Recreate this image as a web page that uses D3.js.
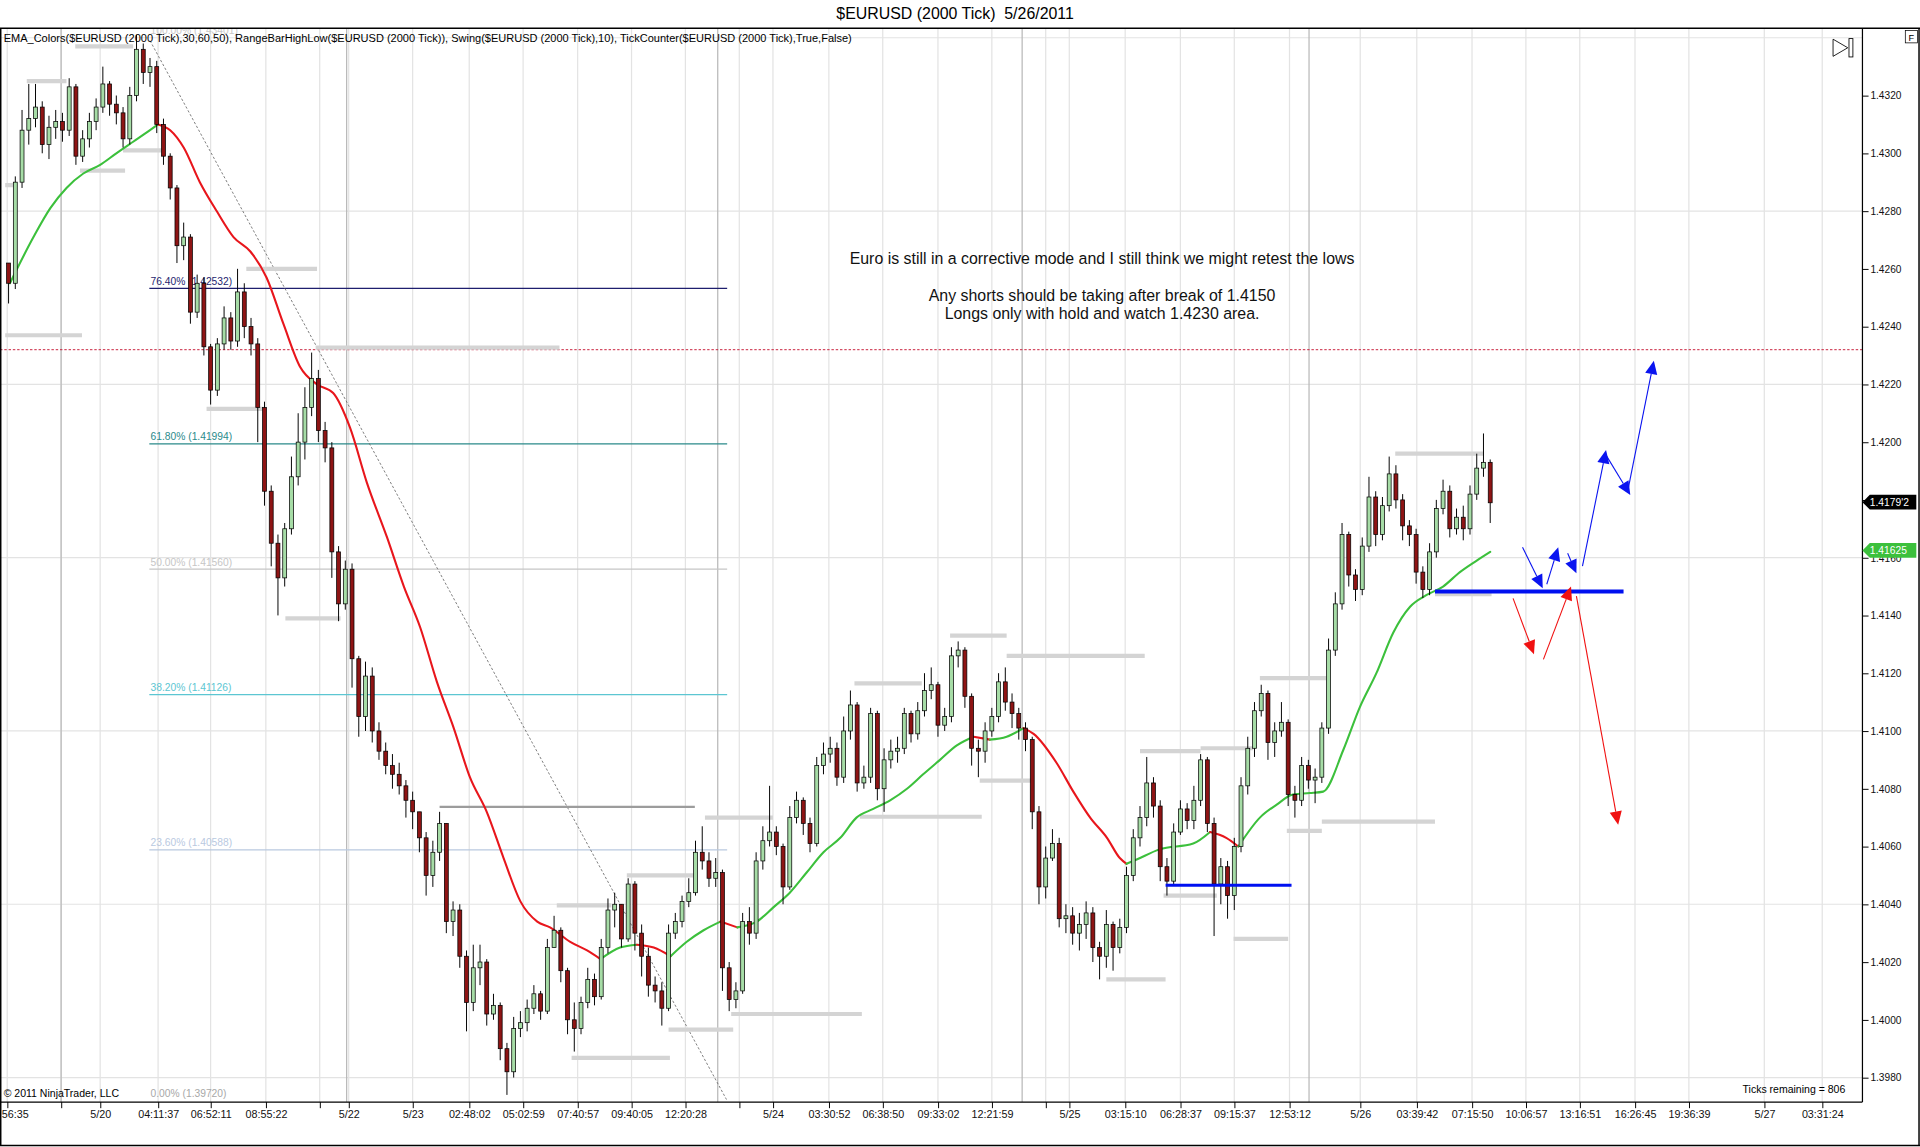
<!DOCTYPE html>
<html>
<head>
<meta charset="utf-8">
<script src="https://cdn.jsdelivr.net/npm/d3@7"></script>
<style>
  html, body { margin: 0; padding: 0; background: #fff; overflow: hidden; }
  #chart { width: 1920px; height: 1147px; }
  text { font-family: "Liberation Sans", Arial, sans-serif; }
</style>
</head>
<body>
<div id="chart"></div>
<script>
// all prices kept in pips above 1.3900 (pip = 0.0001)
const basePrice = 1.39;
const firstOpenPips = 362;

// 2000 tick bars (open = previous close)
const closePips = [355,390,408,412,416,403,409,411,408,423,
  399,405,411,416,424,417,414,405,420,436,
  428,430,410,399,388,368,371,345,355,333,
  318,334,343,335,352,340,334,312,283,265,
  253,270,288,300,312,322,304,298,262,244,
  256,225,205,219,200,193,188,185,181,176,
  172,163,150,158,168,134,138,122,106,118,
  120,102,105,90,82,97,99,104,109,103,
  125,131,117,100,97,106,114,108,125,138,
  140,128,147,130,122,112,110,104,130,134,
  141,144,158,155,149,151,118,107,110,134,
  130,155,162,165,160,146,170,176,168,161,
  188,192,194,184,200,209,182,184,206,180,
  190,193,194,206,199,207,214,216,202,205,
  226,228,212,194,193,200,205,217,210,206,
  201,197,172,146,156,161,135,136,130,133,
  137,125,122,133,125,132,150,163,170,182,
  174,153,148,165,173,169,176,190,168,147,
  153,143,160,181,194,207,213,196,200,203,
  178,176,188,183,184,201,228,244,268,254,
  249,264,281,268,278,289,280,271,268,255,
  249,262,277,283,270,274,270,282,291,293,
  279];
const highPips = [362,392,415,424,424,418,413,415,414,426,
  424,408,414,419,430,425,420,416,423,441,
  438,433,432,412,400,389,376,372,358,357,
  334,336,347,345,360,355,343,336,314,285,
  268,272,295,310,319,331,325,307,300,264,
  259,258,226,224,222,203,196,192,189,183,
  179,172,165,162,172,168,141,140,124,126,
  126,121,109,106,92,101,103,107,112,110,
  128,136,132,118,106,108,118,116,128,142,
  144,140,149,148,133,125,115,113,133,137,
  143,149,162,167,158,156,152,120,113,137,
  139,158,167,181,167,161,174,179,177,170,
  191,196,198,196,205,214,210,188,208,207,
  194,197,198,208,207,210,220,222,217,208,
  229,231,229,213,197,203,208,220,222,213,
  208,203,198,174,160,166,163,140,139,137,
  141,139,127,138,134,135,153,166,174,191,
  184,176,156,168,176,175,181,192,191,170,
  156,155,163,184,198,210,216,214,203,210,
  204,181,191,190,187,203,232,248,272,269,
  256,267,288,283,281,295,292,282,273,270,
  257,265,280,287,285,277,278,285,296,303,
  294];
const lowPips = [348,353,388,403,409,400,398,405,404,406,
  396,397,402,408,414,413,410,402,403,418,
  424,423,407,396,384,362,363,341,343,330,
  313,316,332,332,333,336,330,300,278,257,
  240,250,268,285,294,309,300,293,253,238,
  242,215,198,200,196,190,185,180,178,170,
  166,158,143,146,155,130,129,118,96,103,
  112,98,100,86,74,80,94,96,102,100,
  102,125,113,95,89,95,104,105,107,123,
  132,125,127,124,115,108,106,98,103,128,
  132,139,143,152,146,146,110,103,104,109,
  126,128,152,160,157,140,145,168,164,158,
  160,185,189,181,182,197,179,180,182,176,
  172,187,189,192,196,197,205,211,198,200,
  203,222,208,188,184,189,198,203,207,201,
  197,193,166,140,142,155,132,130,126,124,
  128,120,114,118,117,123,130,148,160,167,
  170,148,143,147,164,166,166,174,165,129,
  140,135,138,158,178,191,205,190,191,198,
  174,170,174,180,175,182,199,226,242,250,
  245,247,262,264,266,276,277,266,264,251,
  246,247,260,275,267,268,266,268,280,288,
  272];

// EMA line (bar index, pips)
const emaBars = [0.2,3.7,6.2,8.6,11.1,13.6,16,18.5,21,22.2,24,26,28.4,30.9,33.4,35.9,38.3,40.8,43.3,45.8,
  48.2,50.7,53.2,56.2,58.7,61.1,63.6,66.1,68.5,71,73.5,76,78.5,80.4,83.4,85.9,87.9,90.8,93.3,95.8,
  98.3,100.7,103.2,105.7,108.2,111.1,113.6,116,118.5,121,123.5,125.9,128.4,130.9,133.4,135.8,138.3,140.8,143.3,145.7,
  148.2,150.7,152.2,155.6,158.1,160.6,163.1,165,166,167.5,170.9,175.9,178.4,180.8,182.6,185.8,188.3,190.7,193.2,195.2,
  198.2,200.6,203.1,205.6,208.1,210.5,213,215.5,218,220];
const emaPips = [355,371,381,388,393,396,400,404,408,410,408,402,390,380,371,366,357,341,326,320,
  317,305,286,267,250,236,217,201,184,172,156,141,134,132,127,124,121,125,126,125,
  122,127,131,134,132,134,139,144,151,158,163,170,173,176,180,185,190,195,198,197,
  198,201,199,189,179,170,163,156,154,155.5,159,161,165,163,160,170,174.5,178,178.5,179,
  193.5,208,220,234,243,247,250,255,259,262];

// swing high / low markers: start bar, end bar, pips
const swingStart = [2.7,-0.5,-0.5,9.9,10.6,17,35.3,29.4,45.6,41.1,81.4,91.8,103.4,98,83.6,107.3,125.6,126.4,139.8,148.2,
  144.2,163,168,177,171.5,181.9,185.8,189.8,195,205.9,211.8];
const swingEnd = [8.6,1,10.9,18.5,17.3,23,45.8,38,81.8,49.3,89.5,101.7,113.5,107.6,98.2,126.7,135.6,144.5,148.2,168.7,
  152.1,171.8,177,184.8,179.4,190,195.7,195,211.8,219,220.2];
const swingPips = [425,389,337,437,394,401,360,311.5,332.7,239,139.6,150,170,96.6,86.8,102,216.5,170.3,233,226,
  182.8,114,193,194,143,128,218.3,165.4,168.6,296,247.4];

// range bar high line: start bar, end bar, pips
const rangeBar = [64, 101.9, 173.7];

// fibonacci retracement
const fibStartBar = 20.9, fibEndBar = 106.7;
const fibLevels = ["0.00", "23.60", "38.20", "50.00", "61.80", "76.40", "100.00"];
const fibPrices = [1.39720, 1.40588, 1.41126, 1.41560, 1.41994, 1.42532, 1.43401];
const fibColors = ["#a8a8a8", "#b9c9df", "#5cc6d2", "#c6c6c6", "#2a8a8a", "#1e1e6e", "#c8c8c8"];

// trend line (bar, pips)
const trendFrom = [21, 439], trendTo = [106.6, 72.4];

// user drawn blue levels: start bar, end bar, pips
const levelStart = [171.8, 211.8], levelEnd = [190.5, 239.8], levelPips = [146.6, 248.3], levelWidth = [2.4, 3.2];
const alertPrice = 1.4232;

// user drawn arrows (bar, pips) -> (bar, pips)
const arrowColor = ["blue","blue","blue","blue","blue","blue","red","red","red"];
const arrowFromBar = [224.8,228.4,231.5,233.7,237.2,240.5,223.4,227.9,232.8];
const arrowFromPips = [263.6,250.8,261.5,257.1,295.5,284,245.9,224.8,246.7];
const arrowToBar = [227.8,230.1,232.8,237.2,240.8,244.3,226.5,232,239];
const arrowToPips = [249.4,263.6,254.6,297.3,281.7,328.2,226.6,250,167.5];

// axes
const yTickValues = [1.3980,1.4000,1.4020,1.4040,1.4060,1.4080,1.4100,1.4120,1.4140,1.4160,1.4180,1.4200,1.4220,1.4240,1.4260,1.4280,1.4300,1.4320];
const yGridValues = [1.3980, 1.4040, 1.4100, 1.4160, 1.4220, 1.4280, 1.4340];
const xTickBars = [-0.2,7.8,13.6,22.2,30,38.2,46.2,50.5,60,68.4,76.4,84.5,92.5,100.5,108.5,113.5,121.8,129.8,138,146,
  154,157.5,165.8,174,182,190.2,200.7,209.1,217.3,225.3,233.3,241.5,249.5,260.7,269.3];
const xTickLabels = ["56:35","","5/20","04:11:37","06:52:11","08:55:22","","5/22","5/23","02:48:02",
  "05:02:59","07:40:57","09:40:05","12:20:28","","5/24","03:30:52","06:38:50","09:33:02","12:21:59",
  "","5/25","03:15:10","06:28:37","09:15:37","12:53:12","5/26","03:39:42","07:15:50","10:06:57",
  "13:16:51","16:26:45","19:36:39","5/27","03:31:24"];
const sessionBars = [7.8, 50.2, 105.3, 150.5, 193.1];

const lastPrice = 1.41792, lastPriceLabel = "1.4179'2";
const emaLast = 1.41625, emaLastLabel = "1.41625";

function createChart() {
    const container = d3.select("#chart");
    container.selectAll("*").remove();

    // drawing space of the screenshot, scaled to the window
    const W = 1568, H = 936.7;
    const plotLeft = 0, plotTop = 23, plotRight = 1521, plotBottom = 900;

    const svg = container.append("svg")
        .attr("width", 1920)
        .attr("height", 1147)
        .attr("viewBox", `0 0 ${W} ${H}`);

    svg.append("rect").attr("width", W).attr("height", H).attr("fill", "#fff");

    const toPrice = p => basePrice + p / 10000;

    const x = d3.scaleLinear().domain([0, 220]).range([7, 1217]);
    const y = d3.scaleLinear().domain([1.3980, 1.4320]).range([880, 78]);

    svg.append("defs").append("clipPath").attr("id", "plotClip")
        .append("rect")
        .attr("x", plotLeft).attr("y", plotTop)
        .attr("width", plotRight - plotLeft).attr("height", plotBottom - plotTop);

    const plot = svg.append("g").attr("clip-path", "url(#plotClip)");

    // grid
    plot.append("g").selectAll("line")
        .data(yGridValues).enter().append("line")
        .attr("x1", plotLeft).attr("x2", plotRight)
        .attr("y1", d => y(d)).attr("y2", d => y(d))
        .attr("stroke", "#e3e3e3").attr("stroke-width", 1);
    plot.append("g").selectAll("line")
        .data(xTickBars).enter().append("line")
        .attr("x1", d => x(d)).attr("x2", d => x(d))
        .attr("y1", plotTop).attr("y2", plotBottom)
        .attr("stroke", "#e3e3e3").attr("stroke-width", 1);
    plot.append("g").selectAll("line")
        .data(sessionBars).enter().append("line")
        .attr("x1", d => x(d)).attr("x2", d => x(d))
        .attr("y1", plotTop).attr("y2", plotBottom)
        .attr("stroke", "#b8b8b8").attr("stroke-width", 1);

    // alert line
    plot.append("line")
        .attr("x1", plotLeft).attr("x2", plotRight)
        .attr("y1", y(alertPrice)).attr("y2", y(alertPrice))
        .attr("stroke", "#c8203c").attr("stroke-width", 0.8)
        .attr("stroke-dasharray", "2,1.5");

    // fib retracement
    const fib = plot.append("g");
    fibPrices.forEach((p, i) => {
        if (i > 0 && i < fibPrices.length - 1) {
            fib.append("line")
                .attr("x1", x(fibStartBar)).attr("x2", x(fibEndBar))
                .attr("y1", y(p)).attr("y2", y(p))
                .attr("stroke", fibColors[i]).attr("stroke-width", 1);
        }
        fib.append("text")
            .attr("x", x(fibStartBar) + 1).attr("y", y(p) - 3)
            .attr("font-size", 8.4).attr("fill", fibColors[i])
            .text(`${fibLevels[i]}% (${p.toFixed(5)})`);
    });

    // trend line
    plot.append("line")
        .attr("x1", x(trendFrom[0])).attr("y1", y(toPrice(trendFrom[1])))
        .attr("x2", x(trendTo[0])).attr("y2", y(toPrice(trendTo[1])))
        .attr("stroke", "#6a6a6a").attr("stroke-width", 0.7)
        .attr("stroke-dasharray", "2,1.6");

    // swing markers
    plot.append("g").selectAll("line")
        .data(swingPips).enter().append("line")
        .attr("x1", (d, i) => x(swingStart[i])).attr("x2", (d, i) => x(swingEnd[i]))
        .attr("y1", d => y(toPrice(d))).attr("y2", d => y(toPrice(d)))
        .attr("stroke", "#d4d4d4").attr("stroke-width", 3.4);

    plot.append("line")
        .attr("x1", x(rangeBar[0])).attr("x2", x(rangeBar[1]))
        .attr("y1", y(toPrice(rangeBar[2]))).attr("y2", y(toPrice(rangeBar[2])))
        .attr("stroke", "#9c9c9c").attr("stroke-width", 1.8);

    // EMA, coloured by slope: split into runs, each drawn smooth
    const emaPts = emaBars.map((b, i) => [b, emaPips[i]]);
    const emaLine = d3.line().curve(d3.curveMonotoneX)
        .x(d => x(d[0])).y(d => y(toPrice(d[1])));
    const emaG = plot.append("g");
    let runStart = 0;
    for (let i = 1; i < emaPts.length; i++) {
        const up = emaPts[i][1] >= emaPts[i - 1][1];
        const nextUp = i + 1 < emaPts.length ? emaPts[i + 1][1] >= emaPts[i][1] : !up;
        if (nextUp !== up) {
            emaG.append("path")
                .attr("d", emaLine(emaPts.slice(runStart, i + 1)))
                .attr("fill", "none")
                .attr("stroke", up ? "#3cc03c" : "#e8161c")
                .attr("stroke-width", 1.7)
                .attr("stroke-linecap", "round");
            runStart = i;
        }
    }

    // candles
    const bars = closePips.map((c, i) => ({
        i: i,
        open: toPrice(i === 0 ? firstOpenPips : closePips[i - 1]),
        close: toPrice(c),
        high: toPrice(highPips[i]),
        low: toPrice(lowPips[i])
    }));
    const bodyW = 3.2;
    const candles = plot.append("g").selectAll("g")
        .data(bars).enter().append("g");
    candles.append("line")
        .attr("x1", d => x(d.i)).attr("x2", d => x(d.i))
        .attr("y1", d => y(d.high)).attr("y2", d => y(d.low))
        .attr("stroke", "#000").attr("stroke-width", 0.8);
    candles.append("rect")
        .attr("x", d => x(d.i) - bodyW / 2)
        .attr("width", bodyW)
        .attr("y", d => y(Math.max(d.open, d.close)))
        .attr("height", d => Math.max(0.8, Math.abs(y(d.open) - y(d.close))))
        .attr("fill", d => d.close >= d.open ? "#a6dca6" : "#8e1414")
        .attr("stroke", "#000").attr("stroke-width", 0.6);

    // user drawn levels
    plot.append("g").selectAll("line")
        .data(levelPips).enter().append("line")
        .attr("x1", (d, i) => x(levelStart[i])).attr("x2", (d, i) => x(levelEnd[i]))
        .attr("y1", d => y(toPrice(d))).attr("y2", d => y(toPrice(d)))
        .attr("stroke", "#0010f0")
        .attr("stroke-width", (d, i) => levelWidth[i]);

    // user drawn arrows
    const arrows = plot.append("g");
    arrowColor.forEach((col, i) => {
        const x0 = x(arrowFromBar[i]), y0 = y(toPrice(arrowFromPips[i]));
        const x1 = x(arrowToBar[i]), y1 = y(toPrice(arrowToPips[i]));
        const ang = Math.atan2(y1 - y0, x1 - x0);
        const len = 11, half = 5;
        const bx = x1 - len * Math.cos(ang), by = y1 - len * Math.sin(ang);
        const c = col === "blue" ? "#0a14f0" : "#f01010";
        arrows.append("line")
            .attr("x1", x0).attr("y1", y0).attr("x2", bx).attr("y2", by)
            .attr("stroke", c).attr("stroke-width", 0.9);
        arrows.append("polygon")
            .attr("points", [[x1, y1],
                [bx + half * Math.sin(ang), by - half * Math.cos(ang)],
                [bx - half * Math.sin(ang), by + half * Math.cos(ang)]].map(p => p.join(",")).join(" "))
            .attr("fill", c);
    });

    // comment text
    const note = svg.append("g").attr("font-size", 13).attr("fill", "#111").attr("text-anchor", "middle");
    note.append("text").attr("x", 900).attr("y", 215.5)
        .text("Euro is still in a corrective mode and I still think we might retest the lows");
    note.append("text").attr("x", 900).attr("y", 245.5)
        .text("Any shorts should be taking after break of 1.4150");
    note.append("text").attr("x", 900).attr("y", 260.5)
        .text("Longs only with hold and watch 1.4230 area.");

    // indicator legend
    svg.append("text")
        .attr("x", 3).attr("y", 34.5)
        .attr("font-size", 9).attr("fill", "#000")
        .text("EMA_Colors($EURUSD (2000 Tick),30,60,50), RangeBarHighLow($EURUSD (2000 Tick)), Swing($EURUSD (2000 Tick),10), TickCounter($EURUSD (2000 Tick),True,False)");

    svg.append("text")
        .attr("x", 3).attr("y", 896)
        .attr("font-size", 8.6).attr("fill", "#000")
        .text("\u00a9 2011 NinjaTrader, LLC");
    svg.append("text")
        .attr("x", 1507).attr("y", 893)
        .attr("font-size", 8.6).attr("fill", "#000").attr("text-anchor", "end")
        .text("Ticks remaining = 806");

    // title
    svg.append("text")
        .attr("x", 780).attr("y", 15.5)
        .attr("font-size", 13).attr("fill", "#000").attr("text-anchor", "middle")
        .text("$EURUSD (2000 Tick)\u00a0 5/26/2011");

    // frame
    const frame = svg.append("g").attr("stroke", "#000").attr("fill", "none");
    frame.append("line").attr("x1", 0).attr("x2", W).attr("y1", plotTop).attr("y2", plotTop).attr("stroke-width", 1.2);
    frame.append("line").attr("x1", 0.6).attr("x2", 0.6).attr("y1", plotTop).attr("y2", H - 1).attr("stroke-width", 1.2);
    frame.append("line").attr("x1", W - 0.8).attr("x2", W - 0.8).attr("y1", plotTop).attr("y2", H - 1).attr("stroke-width", 1.2);
    frame.append("line").attr("x1", 0).attr("x2", W).attr("y1", H - 1.2).attr("y2", H - 1.2).attr("stroke-width", 1.2);
    frame.append("line").attr("x1", plotRight).attr("x2", plotRight).attr("y1", plotTop).attr("y2", plotBottom).attr("stroke-width", 1);
    frame.append("line").attr("x1", plotLeft).attr("x2", plotRight).attr("y1", plotBottom).attr("y2", plotBottom).attr("stroke-width", 1);

    // price axis (the 1.4180 label sits under the last price marker)
    const yAxis = svg.append("g")
        .attr("transform", `translate(${plotRight},0)`)
        .call(d3.axisRight(y).tickValues(yTickValues)
            .tickFormat(d => Math.abs(d - lastPrice) < 0.0005 ? "" : d3.format(".4f")(d))
            .tickSize(5).tickPadding(1.5));
    yAxis.select(".domain").remove();
    yAxis.selectAll("text").attr("font-size", 8.3).attr("fill", "#111").attr("font-family", null);
    yAxis.selectAll("line").attr("stroke", "#000").attr("stroke-width", 0.8);

    // time axis
    const xAxis = svg.append("g")
        .attr("transform", `translate(0,${plotBottom})`)
        .call(d3.axisBottom(x).tickValues(xTickBars).tickFormat((d, i) => xTickLabels[i]).tickSize(5).tickPadding(1.5));
    xAxis.select(".domain").remove();
    xAxis.selectAll("text").attr("font-size", 8.8).attr("fill", "#111").attr("font-family", null);
    xAxis.selectAll("line").attr("stroke", "#000").attr("stroke-width", 0.8);
    // first label is cut by the left edge in the original
    xAxis.selectAll(".tick text").filter((d, i) => i === 0)
        .attr("text-anchor", "start").attr("x", 1 - x(xTickBars[0]));

    // price markers on the axis
    function tag(price, label, bg, fg) {
        const ty = y(price);
        svg.append("polygon")
            .attr("points", `${plotRight},${ty} ${plotRight + 6},${ty - 6} ${W - 3},${ty - 6} ${W - 3},${ty + 6} ${plotRight + 6},${ty + 6}`)
            .attr("fill", bg);
        svg.append("text")
            .attr("x", plotRight + 6).attr("y", ty + 3)
            .attr("font-size", 8.4).attr("fill", fg)
            .text(label);
    }
    tag(emaLast, emaLastLabel, "#3cc03c", "#fff");
    tag(lastPrice, lastPriceLabel, "#000", "#fff");

    // small controls at the top right
    svg.append("rect")
        .attr("x", 1556).attr("y", 25).attr("width", 10).attr("height", 10)
        .attr("fill", "#fff").attr("stroke", "#000").attr("stroke-width", 0.6);
    svg.append("text")
        .attr("x", 1561).attr("y", 33.3).attr("font-size", 7.5).attr("text-anchor", "middle")
        .text("F");
    svg.append("polygon")
        .attr("points", "1497,32 1509,39 1497,46")
        .attr("fill", "none").attr("stroke", "#000").attr("stroke-width", 0.7);
    svg.append("rect")
        .attr("x", 1510).attr("y", 31.5).attr("width", 3.2).attr("height", 15)
        .attr("fill", "none").attr("stroke", "#000").attr("stroke-width", 0.7);
}

createChart();
</script>
</body>
</html>
